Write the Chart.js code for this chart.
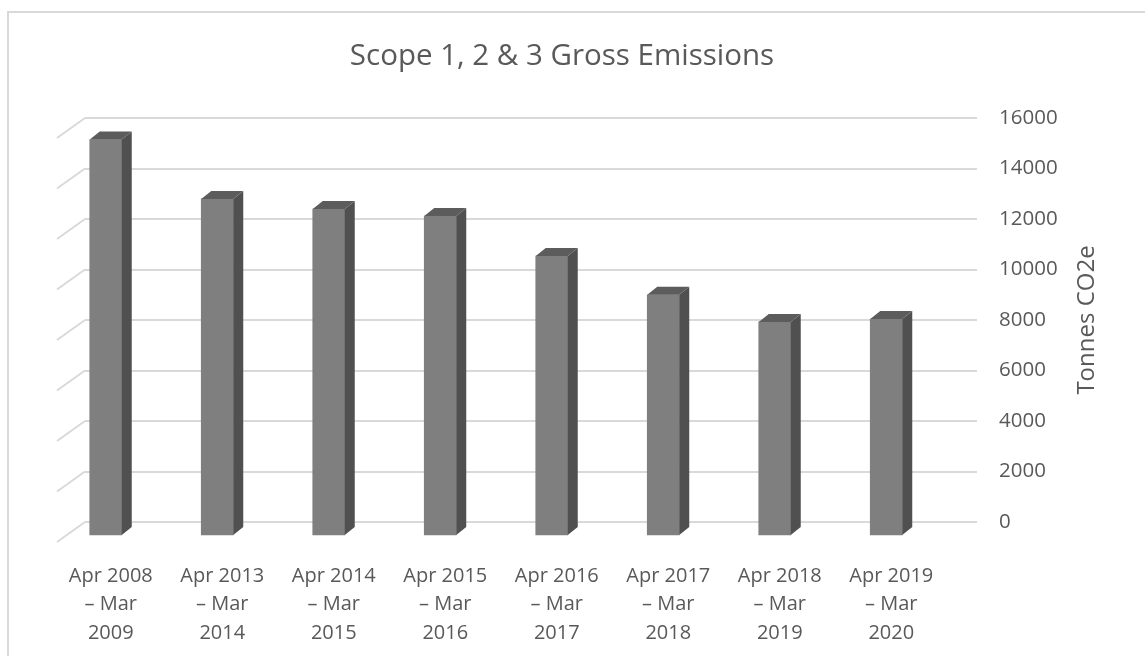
<!DOCTYPE html>
<html>
<head>
<meta charset="utf-8">
<title>Scope 1, 2 & 3 Gross Emissions</title>
<script src="https://cdn.jsdelivr.net/npm/chart.js@4"></script>
<style>
  html, body { margin: 0; padding: 0; background: #fff; }
  #wrap { width: 1145px; height: 656px; }
</style>
</head>
<body>
<div id="wrap"><canvas id="ch"></canvas></div>
<script>
// data
var periods = [
  ['Apr 2008', '– Mar', '2009'],
  ['Apr 2013', '– Mar', '2014'],
  ['Apr 2014', '– Mar', '2015'],
  ['Apr 2015', '– Mar', '2016'],
  ['Apr 2016', '– Mar', '2017'],
  ['Apr 2017', '– Mar', '2018'],
  ['Apr 2018', '– Mar', '2019'],
  ['Apr 2019', '– Mar', '2020']
];
var grossEmissions = [15700, 13350, 12950, 12670, 11090, 9550, 8480, 8590];
var yMin = 0, yMax = 16000, yStep = 2000;
var chartTitle = 'Scope 1, 2 & 3 Gross Emissions';
var yTitle = 'Tonnes CO2e';

var grey = '#595959';
var gridGrey = '#d9d9d9';

// fake 3d: bars stand in front of the back wall
var shift = { x: -35, y: 14 };
var depth = { x: 10, y: -8 };
var floor = { x: -28, y: 20 };

Chart.defaults.font.family = "'Open Sans', sans-serif";
Chart.defaults.color = grey;

var fake3d = {
  id: 'fake3d',
  beforeDraw: function (chart) {
    var ctx = chart.ctx;
    ctx.save();
    // outer frame (only top and left show in the picture)
    ctx.strokeStyle = gridGrey;
    ctx.lineWidth = 2;
    ctx.beginPath();
    ctx.moveTo(8, chart.height);
    ctx.lineTo(8, 12);
    ctx.lineTo(chart.width, 12);
    ctx.stroke();
    // title, centred on the whole picture
    ctx.fillStyle = grey;
    ctx.font = "29.5px 'Open Sans', sans-serif";
    ctx.textAlign = 'center';
    ctx.textBaseline = 'middle';
    ctx.fillText(chartTitle, 562, 57);
    ctx.restore();
  },
  beforeDatasetsDraw: function (chart) {
    var ctx = chart.ctx, y = chart.scales.y, a = chart.chartArea;
    ctx.save();
    ctx.strokeStyle = gridGrey;
    ctx.lineWidth = 2;
    y.ticks.forEach(function (t, i) {
      var py = y.getPixelForTick(i);
      ctx.beginPath();
      ctx.moveTo(a.left, py);
      ctx.lineTo(a.left + floor.x, py + floor.y);
      ctx.stroke();
    });
    ctx.restore();
    ctx.save();
    ctx.translate(shift.x, shift.y);
  },
  afterDatasetsDraw: function (chart) {
    var ctx = chart.ctx;
    chart.getDatasetMeta(0).data.forEach(function (bar) {
      var p = bar.getProps(['x', 'y', 'base', 'width'], true);
      var l = p.x - p.width / 2, r = p.x + p.width / 2;
      // side
      ctx.fillStyle = '#505050';
      ctx.beginPath();
      ctx.moveTo(r, p.y);
      ctx.lineTo(r + depth.x, p.y + depth.y);
      ctx.lineTo(r + depth.x, p.base + depth.y);
      ctx.lineTo(r, p.base);
      ctx.closePath();
      ctx.fill();
      // top
      ctx.fillStyle = '#5c5c5c';
      ctx.beginPath();
      ctx.moveTo(l, p.y);
      ctx.lineTo(l + depth.x, p.y + depth.y);
      ctx.lineTo(r + depth.x, p.y + depth.y);
      ctx.lineTo(r, p.y);
      ctx.closePath();
      ctx.fill();
    });
    ctx.restore();
  },
  afterDraw: function (chart) {
    var ctx = chart.ctx, y = chart.scales.y;
    ctx.save();
    ctx.translate(1087, (y.top + y.bottom) / 2);
    ctx.rotate(-Math.PI / 2);
    ctx.fillStyle = grey;
    ctx.font = "24px 'Open Sans', sans-serif";
    ctx.textAlign = 'center';
    ctx.textBaseline = 'middle';
    ctx.fillText(yTitle, 0, 0);
    ctx.restore();
  }
};

var ctx = document.getElementById('ch').getContext('2d');
var myChart = new Chart(ctx, {
  type: 'bar',
  data: {
    labels: periods,
    datasets: [{
      label: 'Gross emissions',
      data: grossEmissions,
      backgroundColor: '#7f7f7f',
      borderWidth: 0,
      barThickness: 32,
      clip: false
    }]
  },
  options: {
    responsive: true,
    maintainAspectRatio: false,
    animation: false,
    layout: { padding: { left: 85, right: 0, top: 118, bottom: 0 } },
    plugins: {
      legend: { display: false },
      tooltip: { enabled: false },
      title: { display: false }
    },
    scales: {
      x: {
        grid: { display: false, drawTicks: false },
        border: { display: false },
        ticks: {
          color: grey,
          font: { size: 20, lineHeight: 1.425 },
          padding: 40,
          labelOffset: -30,
          maxRotation: 0,
          autoSkip: false
        },
        afterFit: function (s) { s.height = 134; }
      },
      y: {
        position: 'right',
        min: yMin,
        max: yMax,
        grid: { color: gridGrey, lineWidth: 2, drawTicks: false },
        border: { display: false },
        ticks: {
          stepSize: yStep,
          color: grey,
          font: { size: 20.5 },
          padding: 22,
          callback: function (v) { return String(v); }
        },
        afterFit: function (s) { s.width = 168; }
      }
    }
  },
  plugins: [fake3d]
});
</script>
</body>
</html>
